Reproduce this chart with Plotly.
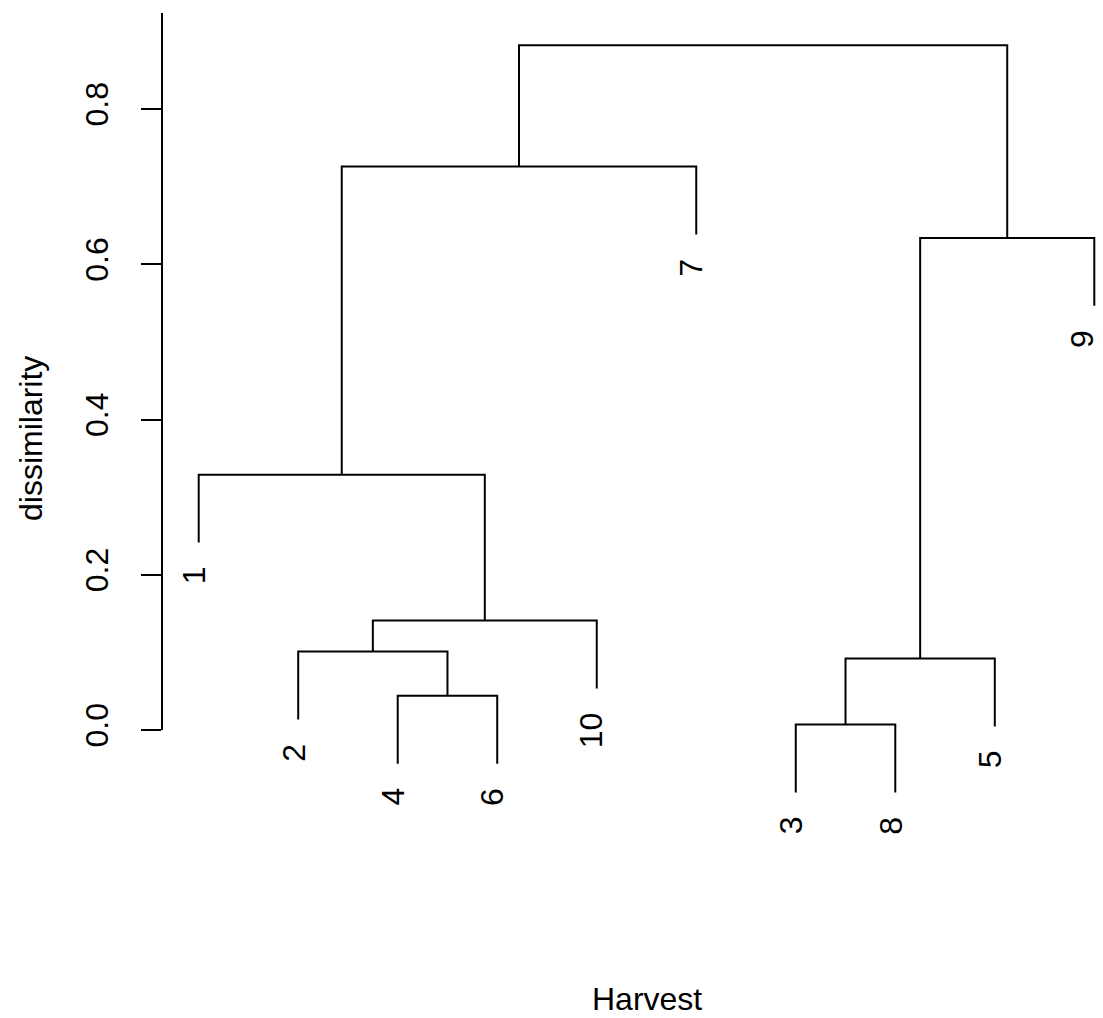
import plotly.graph_objects as go

# Hierarchical clustering result (R hclust convention):
# negative entries are single observations, positive entries refer to earlier merge rows.
merge_left = [-3, -4, 1, -2, 4, -1, 3, 6, 8]
merge_right = [-8, -6, -5, 2, -10, 5, -9, -7, 7]
merge_height = [0.007, 0.044, 0.092, 0.101, 0.141, 0.329, 0.634, 0.726, 0.882]

# Observation labels and the left-to-right leaf order of the dendrogram
obs_labels = ["1", "2", "3", "4", "5", "6", "7", "8", "9", "10"]
leaf_order = [1, 2, 4, 6, 10, 7, 3, 8, 5, 9]

# Y axis ticks
y_tick_vals = [0.0, 0.2, 0.4, 0.6, 0.8]
y_tick_text = ["0.0", "0.2", "0.4", "0.6", "0.8"]

x_title = "Harvest"
y_title = "dissimilarity"

FONT = "Liberation Sans, Arial, Helvetica, sans-serif"
FS = 32

# leaves hang below their merge by 10% of the height range
hang = 0.1 * (max(merge_height) - min(merge_height))

leaf_x = {obs: i + 1 for i, obs in enumerate(leaf_order)}
node_x = {}
seg_x, seg_y = [], []
leaf_tip = {}


def child_pos(c, h):
    """x position and top y of a child of a merge at height h."""
    if c < 0:
        obs = -c
        leaf_tip[obs] = h - hang
        return leaf_x[obs], h - hang
    return node_x[c], merge_height[c - 1]


for k, (a, b, h) in enumerate(zip(merge_left, merge_right, merge_height), start=1):
    xa, ya = child_pos(a, h)
    xb, yb = child_pos(b, h)
    node_x[k] = (xa + xb) / 2
    seg_x += [xa, xa, xb, xb, None]
    seg_y += [ya, h, h, yb, None]

fig = go.Figure()
fig.add_trace(go.Scatter(
    x=seg_x, y=seg_y, mode="lines",
    line=dict(color="black", width=2),
    hoverinfo="skip", showlegend=False,
))

# plot area geometry
W, H = 1103, 1018
ml, mr, mt, mb = 162, 0, 13, 153
y_lo, y_hi = -0.1739, 0.9237
x_lo, x_hi = 0.6312, 10.0874

annotations = []
for i, obs in enumerate(leaf_order):
    last = i == len(leaf_order) - 1
    annotations.append(dict(
        x=leaf_x[obs], y=leaf_tip[obs], xref="x", yref="y",
        text=obs_labels[obs - 1], showarrow=False, textangle=-90,
        # the rightmost label is kept inside the page edge
        xanchor="right" if last else "center",
        xshift=7 if last else -5,
        yanchor="top", yshift=-22,
        font=dict(family=FONT, size=FS, color="black"),
    ))

annotations.append(dict(
    x=5.5, y=-0.157, xref="x", yref="paper", text=x_title, showarrow=False,
    xanchor="center", yanchor="middle",
    font=dict(family=FONT, size=FS, color="black"),
))
annotations.append(dict(
    x=(31 - ml) / (W - ml - mr), y=0.5, xref="paper", yref="paper",
    text=y_title, showarrow=False, textangle=-90,
    xanchor="center", yanchor="middle",
    font=dict(family=FONT, size=FS, color="black"),
))

fig.update_layout(
    width=W, height=H,
    margin=dict(l=ml, r=mr, t=mt, b=mb, pad=0),
    paper_bgcolor="white", plot_bgcolor="white",
    showlegend=False,
    annotations=annotations,
    shapes=[dict(
        type="line", xref="paper", yref="y", x0=0, x1=0, y0=0, y1=y_hi,
        line=dict(color="black", width=2),
    )],
    xaxis=dict(range=[x_lo, x_hi], visible=False, fixedrange=True),
    yaxis=dict(
        range=[y_lo, y_hi], showgrid=False, zeroline=False, showline=False,
        tickmode="array", tickvals=y_tick_vals, ticktext=y_tick_text,
        ticks="outside", ticklen=20, tickwidth=2, tickcolor="black",
        tickangle=-90, ticklabelstandoff=20,
        tickfont=dict(family=FONT, size=FS, color="black"),
        fixedrange=True,
    ),
)

fig.write_html("out.html")
